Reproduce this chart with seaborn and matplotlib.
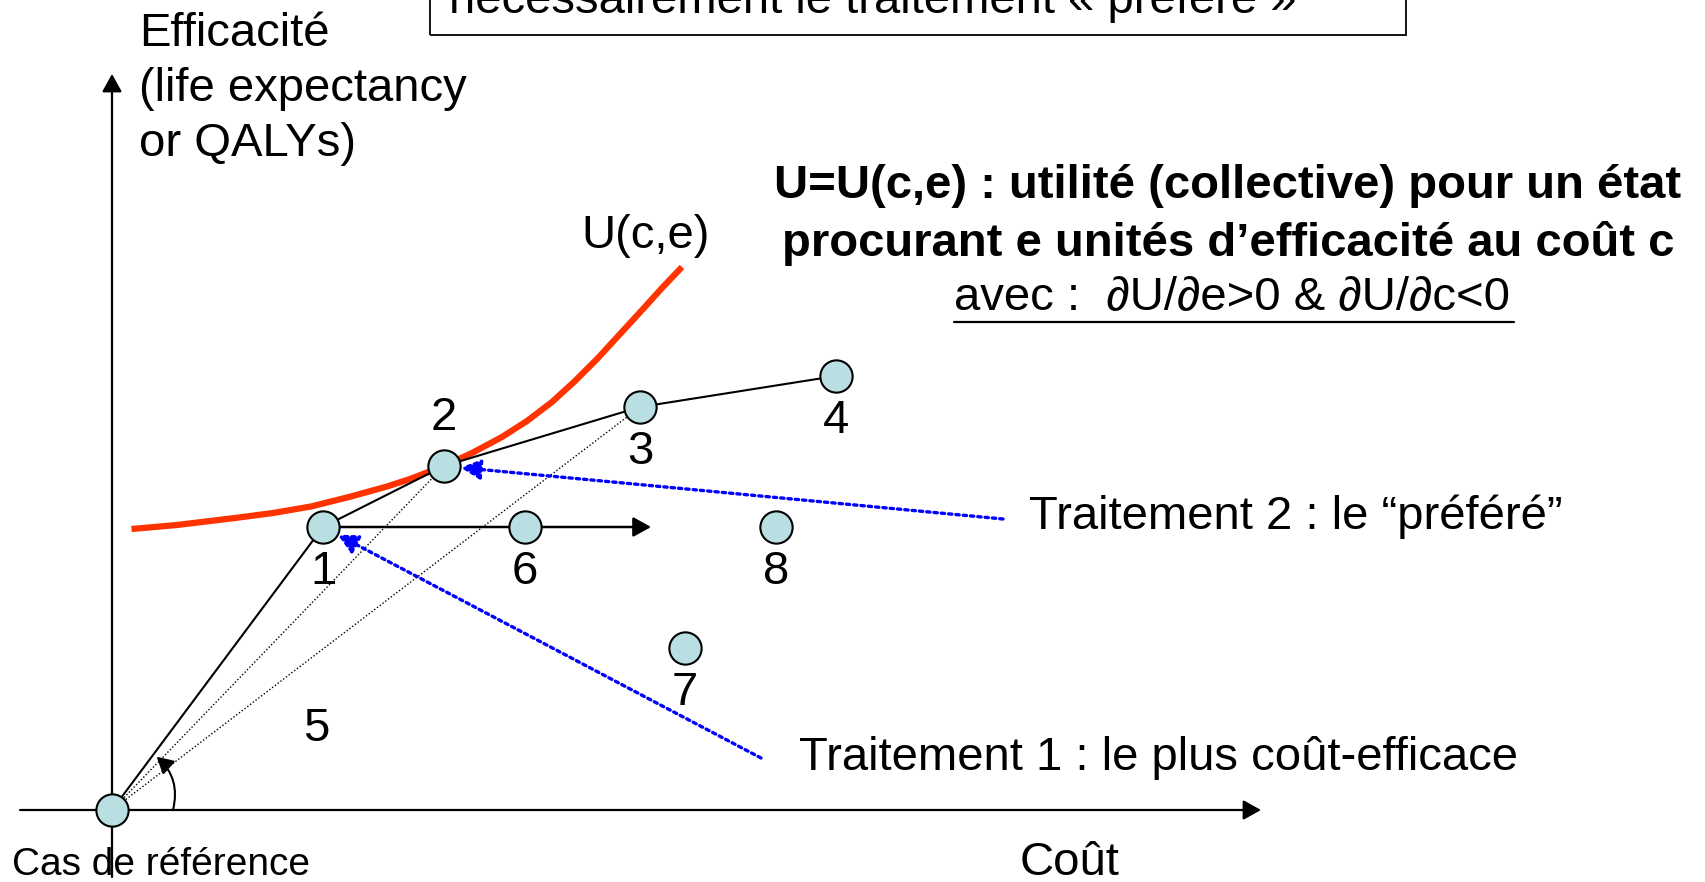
import matplotlib
matplotlib.use("Agg")
import matplotlib.pyplot as plt
import seaborn as sns
import pandas as pd

sns.set_theme(style="white")
plt.rcParams['font.family'] = ['Liberation Sans', 'DejaVu Sans']
plt.rcParams['text.color'] = 'black'

# treatments: cost / efficacy (reference case at the origin)
treat_ids = ['0', '1', '2', '3', '4', '6', '7', '8']
cost = [0.0, 2.11, 3.32, 5.28, 7.24, 4.13, 5.73, 6.64]
efficacy = [0.0, 2.83, 3.44, 4.03, 4.34, 2.83, 1.62, 2.83]

# efficiency frontier (solid black line)
frontier_ids = ['0', '1', '2', '3', '4']

# dotted rays from the reference case
ray_ids = ['2', '3']

# utility curve U(c,e)
u_cost = [0.195, 0.65, 1.23, 1.61, 1.99, 2.37, 2.75, 2.98, 3.32, 3.60, 3.90,
          4.15, 4.40, 4.63, 4.86, 5.08, 5.31, 5.50, 5.70]
u_eff = [2.81, 2.85, 2.92, 2.97, 3.035, 3.13, 3.235, 3.31, 3.44, 3.57, 3.73,
         3.89, 4.08, 4.29, 4.52, 4.76, 5.01, 5.22, 5.43]

df = pd.DataFrame({'id': treat_ids, 'cost': cost, 'eff': efficacy})
pts = df.set_index('id')
curve = pd.DataFrame({'cost': u_cost, 'eff': u_eff})

fig = plt.figure(figsize=(17.05, 8.82), dpi=100)
ax = fig.add_axes([0, 0, 1, 1])
ax.set_xlim(-1.12, 15.93)
ax.set_ylim(-0.72, 8.10)
ax.axis('off')

FS = 34
head = dict(arrowstyle='-|>,head_length=0.45,head_width=0.25', mutation_scale=24)

# axes with arrows
ax.annotate('', xy=(11.49, 0), xytext=(-0.92, 0),
            arrowprops=dict(color='black', lw=1.6, shrinkA=0, shrinkB=0, **head))
ax.annotate('', xy=(0, 7.36), xytext=(0, -0.67),
            arrowprops=dict(color='black', lw=1.6, shrinkA=0, shrinkB=0, **head))

# utility curve
sns.lineplot(data=curve, x='cost', y='eff', sort=False, color='#FF3300',
             lw=4.5, ax=ax, zorder=2, solid_capstyle='butt', solid_joinstyle='round')

# frontier
fr = pts.loc[frontier_ids]
sns.lineplot(x=fr['cost'].values, y=fr['eff'].values, sort=False, color='black',
             lw=1.5, ax=ax, zorder=3)

# dotted rays
for r in ray_ids:
    ax.plot([0, pts.loc[r, 'cost']], [0, pts.loc[r, 'eff']], color='black',
            lw=1.0, linestyle=(0, (1, 1.5)), zorder=3)

# horizontal arrow from 1
ax.annotate('', xy=(5.39, pts.loc['1', 'eff']), xytext=(pts.loc['1', 'cost'], pts.loc['1', 'eff']),
            arrowprops=dict(color='black', lw=1.8, shrinkA=0, shrinkB=0, **head), zorder=3)

# points
sns.scatterplot(data=df, x='cost', y='eff', s=540, color='#BADFE2',
                edgecolor='black', linewidth=1.5, ax=ax, zorder=5, legend=False)

# point labels
for tid in treat_ids[1:]:
    dy = 0.48 if tid == '2' else -0.45
    ax.text(pts.loc[tid, 'cost'], pts.loc[tid, 'eff'] + dy, tid, fontsize=FS,
            ha='center', va='center')
ax.text(2.04, 0.81, '5', fontsize=FS, ha='center', va='center')

# angle arrow at origin
ax.annotate('', xy=(0.447, 0.533), xytext=(0.61, 0.0),
            arrowprops=dict(color='black', lw=1.5, shrinkA=0, shrinkB=0,
                            connectionstyle='arc3,rad=0.3',
                            arrowstyle='-|>,head_length=0.45,head_width=0.25',
                            mutation_scale=22))

# blue dotted pointers
blue = dict(color='#0000FF', lw=2.4, linestyle=(0, (1, 1.2)), shrinkA=0, shrinkB=12,
            arrowstyle='-|>,head_length=0.5,head_width=0.25', mutation_scale=24)
ax.annotate('', xy=(pts.loc['2', 'cost'], pts.loc['2', 'eff']), xytext=(8.91, 2.91),
            arrowprops=blue, zorder=4)
ax.annotate('', xy=(pts.loc['1', 'cost'], pts.loc['1', 'eff']), xytext=(6.49, 0.52),
            arrowprops=blue, zorder=4)

# texts
ax.text(0.27, 7.21, 'Efficacité\n(life expectancy\nor QALYs)', fontsize=FS,
        ha='left', va='center', linespacing=1.32)
ax.text(9.58, -0.65, 'Coût', fontsize=FS, ha='center', va='baseline')
ax.text(-1.00, -0.65, 'Cas de référence', fontsize=28, ha='left', va='baseline')
ax.text(5.34, 5.74, 'U(c,e)', fontsize=FS, ha='center', va='center')
ax.text(9.17, 2.93, 'Traitement 2 : le “préféré”', fontsize=FS, ha='left', va='center')
ax.text(6.87, 0.52, 'Traitement 1 : le plus coût-efficace', fontsize=FS, ha='left', va='center')

ax.text(11.16, 6.24, 'U=U(c,e) : utilité (collective) pour un état', fontsize=FS,
        fontweight='bold', ha='center', va='center')
ax.text(11.16, 5.67, 'procurant e unités d’efficacité au coût c', fontsize=FS,
        fontweight='bold', ha='center', va='center')
ax.text(8.42, 5.12, 'avec :  ∂U/∂e>0 & ∂U/∂c<0', fontsize=FS, ha='left', va='center')
ax.plot([8.42, 14.02], [4.88, 4.88], color='black', lw=1.6)

# top box, partly cut off
ax.add_patch(plt.Rectangle((3.18, 7.75), 9.76, 1.0, fill=False, edgecolor='black',
                           lw=1.3, clip_on=True))
ax.text(3.37, 7.97, 'nécessairement le traitement « préféré »', fontsize=FS,
        ha='left', va='baseline')

fig.savefig('out.png', dpi=100)
